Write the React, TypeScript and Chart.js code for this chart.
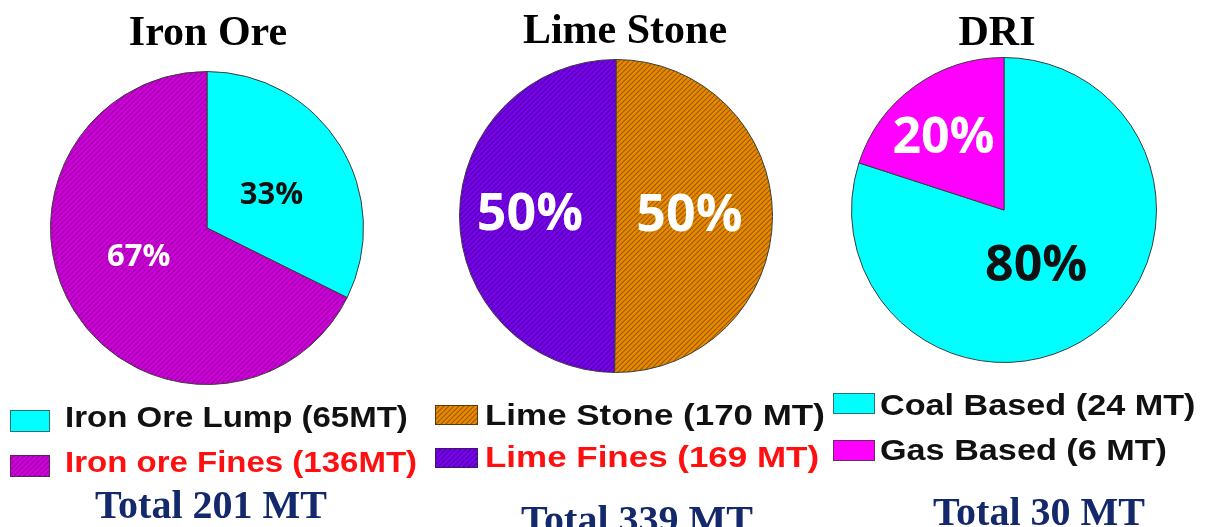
import React, { useEffect, useRef } from "react";
import { Chart, registerables } from "chart.js";

Chart.register(...registerables);

// ---------- data ----------
const titles = ["Iron Ore", "Lime Stone", "DRI"];
const totals = ["Total 201 MT", "Total 339 MT", "Total 30 MT"];

const ironLabels = ["Iron Ore Lump (65MT)", "Iron ore Fines (136MT)"];
const ironValues = [65, 136];
const ironPct = ["33%", "67%"];

const limeLabels = ["Lime Stone (170 MT)", "Lime Fines (169 MT)"];
const limeValues = [170, 169];
const limePct = ["50%", "50%"];

const driLabels = ["Coal Based (24 MT)", "Gas Based (6 MT)"];
const driValues = [24, 6];
const driPct = ["80%", "20%"];

// ---------- styles / layout ----------
const W = 1213;
const H = 527;

function hatch(base: string, line: string) {
  const s = 5;
  const c = document.createElement("canvas");
  c.width = s;
  c.height = s;
  const g = c.getContext("2d")!;
  g.fillStyle = base;
  g.fillRect(0, 0, s, s);
  g.strokeStyle = line;
  g.lineWidth = 1.2;
  g.beginPath();
  g.moveTo(-1, s + 1);
  g.lineTo(s + 1, -1);
  g.moveTo(-1, 1);
  g.lineTo(1, -1);
  g.moveTo(s - 1, s + 1);
  g.lineTo(s + 1, s - 1);
  g.stroke();
  return g.createPattern(c, "repeat")!;
}

type Panel = {
  title: string;
  total: string;
  labels: string[];
  values: number[];
  pct: string[];
  colors: () => (string | CanvasPattern)[];
  borders: string[];
  cx: number;
  cy: number;
  r: number;
  titleX: number;
  titleY: number;
  pctFont: number;
  pctColors: string[];
  pctFrac: number[];
  pctNudge: number[];
  boxX: number;
  boxW: number;
  boxH: number;
  boxTops: number[];
  textX: number;
  textBase: number[];
  textColors: string[];
  textScale: number;
  totalX: number;
  totalY: number;
};

const panels: Panel[] = [
  {
    title: titles[0],
    total: totals[0],
    labels: ironLabels,
    values: ironValues,
    pct: ironPct,
    colors: () => ["#00ffff", hatch("#d000d8", "#9a00a8")],
    borders: ["#2f6f6f", "#5a2060"],
    cx: 207,
    cy: 228,
    r: 157,
    titleX: 208,
    titleY: 45,
    pctFont: 31,
    pctColors: ["#111111", "#ffffff"],
    pctFrac: [0.47, 0.47],
    pctNudge: [3, 10],
    boxX: 10,
    boxW: 40,
    boxH: 22,
    boxTops: [410, 455],
    textX: 65,
    textBase: [427, 472],
    textColors: ["#111111", "#ff1010"],
    textScale: 1.1,
    totalX: 211,
    totalY: 518,
  },
  {
    title: titles[1],
    total: totals[1],
    labels: limeLabels,
    values: limeValues,
    pct: limePct,
    colors: () => [hatch("#e68a00", "#a05800"), hatch("#7a00ee", "#4e00a8")],
    borders: ["#5a3a10", "#3a1a60"],
    cx: 616,
    cy: 216,
    r: 157,
    titleX: 625,
    titleY: 43,
    pctFont: 52,
    pctColors: ["#ffffff", "#ffffff"],
    pctFrac: [0.47, 0.55],
    pctNudge: [-3, 2.5],
    boxX: 435,
    boxW: 43,
    boxH: 20,
    boxTops: [405, 448],
    textX: 485,
    textBase: [425, 467],
    textColors: ["#111111", "#ff1010"],
    textScale: 1.165,
    totalX: 637,
    totalY: 533,
  },
  {
    title: titles[2],
    total: totals[2],
    labels: driLabels,
    values: driValues,
    pct: driPct,
    colors: () => ["#00ffff", "#ff00ff"],
    borders: ["#2f6f6f", "#6a2a6a"],
    cx: 1004,
    cy: 210,
    r: 153,
    titleX: 997,
    titleY: 45,
    pctFont: 50,
    pctColors: ["#111111", "#ffffff"],
    pctFrac: [0.41, 0.63],
    pctNudge: [5, -3],
    boxX: 833,
    boxW: 42,
    boxH: 21,
    boxTops: [393, 440],
    textX: 880,
    textBase: [415, 460],
    textColors: ["#111111", "#111111"],
    textScale: 1.14,
    totalX: 1039,
    totalY: 525,
  },
];

function drawText(
  ctx: CanvasRenderingContext2D,
  text: string,
  x: number,
  y: number,
  font: string,
  color: string,
  align: CanvasTextAlign,
  sx = 1
) {
  ctx.save();
  ctx.font = font;
  ctx.fillStyle = color;
  ctx.textAlign = align;
  ctx.textBaseline = "alphabetic";
  ctx.translate(x, y);
  ctx.scale(sx, 1);
  ctx.fillText(text, 0, 0);
  ctx.restore();
}

function makeDecor(p: Panel) {
  return {
    id: "decor",
    afterDraw(chart: any) {
      const ctx: CanvasRenderingContext2D = chart.ctx;
      // title
      drawText(ctx, p.title, p.titleX, p.titleY, "bold 42px 'Liberation Serif', 'Times New Roman', serif", "#000000", "center");
      // percent labels from arc geometry
      const meta = chart.getDatasetMeta(0);
      meta.data.forEach((arc: any, i: number) => {
        const a = arc.getProps(["x", "y", "startAngle", "endAngle", "outerRadius"], true);
        const mid = (a.startAngle + a.endAngle) / 2 + (p.pctNudge[i] * Math.PI) / 180;
        const rr = a.outerRadius * p.pctFrac[i];
        const lx = a.x + Math.cos(mid) * rr;
        const ly = a.y + Math.sin(mid) * rr;
        drawText(
          ctx,
          p.pct[i],
          lx,
          ly + p.pctFont * 0.357,
          `bold ${p.pctFont}px 'Open Sans', 'Noto Sans', sans-serif`,
          p.pctColors[i],
          "center"
        );
      });
      // legend
      const ds = chart.data.datasets[0];
      (chart.data.labels as string[]).forEach((lab, i) => {
        const top = p.boxTops[i];
        ctx.save();
        ctx.fillStyle = ds.backgroundColor[i];
        ctx.fillRect(p.boxX, top, p.boxW, p.boxH);
        ctx.strokeStyle = p.borders[i];
        ctx.lineWidth = 1;
        ctx.strokeRect(p.boxX + 0.5, top + 0.5, p.boxW - 1, p.boxH - 1);
        ctx.restore();
        drawText(
          ctx,
          lab,
          p.textX,
          p.textBase[i],
          "bold 30px 'Liberation Sans', Arial, sans-serif",
          p.textColors[i],
          "left",
          p.textScale
        );
      });
      // total
      drawText(ctx, p.total, p.totalX, p.totalY, "bold 40px 'Liberation Serif', 'Times New Roman', serif", "#14296b", "center");
    },
  };
}

function PiePanel({ p }: { p: Panel }) {
  const ref = useRef<HTMLCanvasElement | null>(null);
  useEffect(() => {
    if (!ref.current) return;
    const chart = new Chart(ref.current, {
      type: "pie",
      data: {
        labels: p.labels,
        datasets: [
          {
            data: p.values,
            backgroundColor: p.colors(),
            borderColor: "#3c3c3c",
            borderWidth: 1,
          },
        ],
      },
      options: {
        responsive: false,
        maintainAspectRatio: false,
        animation: false,
        devicePixelRatio: 1,
        events: [],
        layout: {
          padding: {
            left: p.cx - p.r,
            top: p.cy - p.r,
            right: W - p.cx - p.r,
            bottom: H - p.cy - p.r,
          },
        },
        plugins: {
          legend: { display: false },
          tooltip: { enabled: false },
          title: { display: false },
        },
      } as any,
      plugins: [makeDecor(p)],
    });
    return () => chart.destroy();
  }, [p]);
  return (
    <canvas
      ref={ref}
      width={W}
      height={H}
      style={{ position: "absolute", left: 0, top: 0, width: W, height: H }}
    />
  );
}

export default function App() {
  return (
    <div
      style={{
        position: "absolute",
        left: 0,
        top: 0,
        width: W,
        height: H,
        background: "#ffffff",
        overflow: "hidden",
      }}
    >
      {panels.map((p, i) => (
        <PiePanel key={i} p={p} />
      ))}
    </div>
  );
}
